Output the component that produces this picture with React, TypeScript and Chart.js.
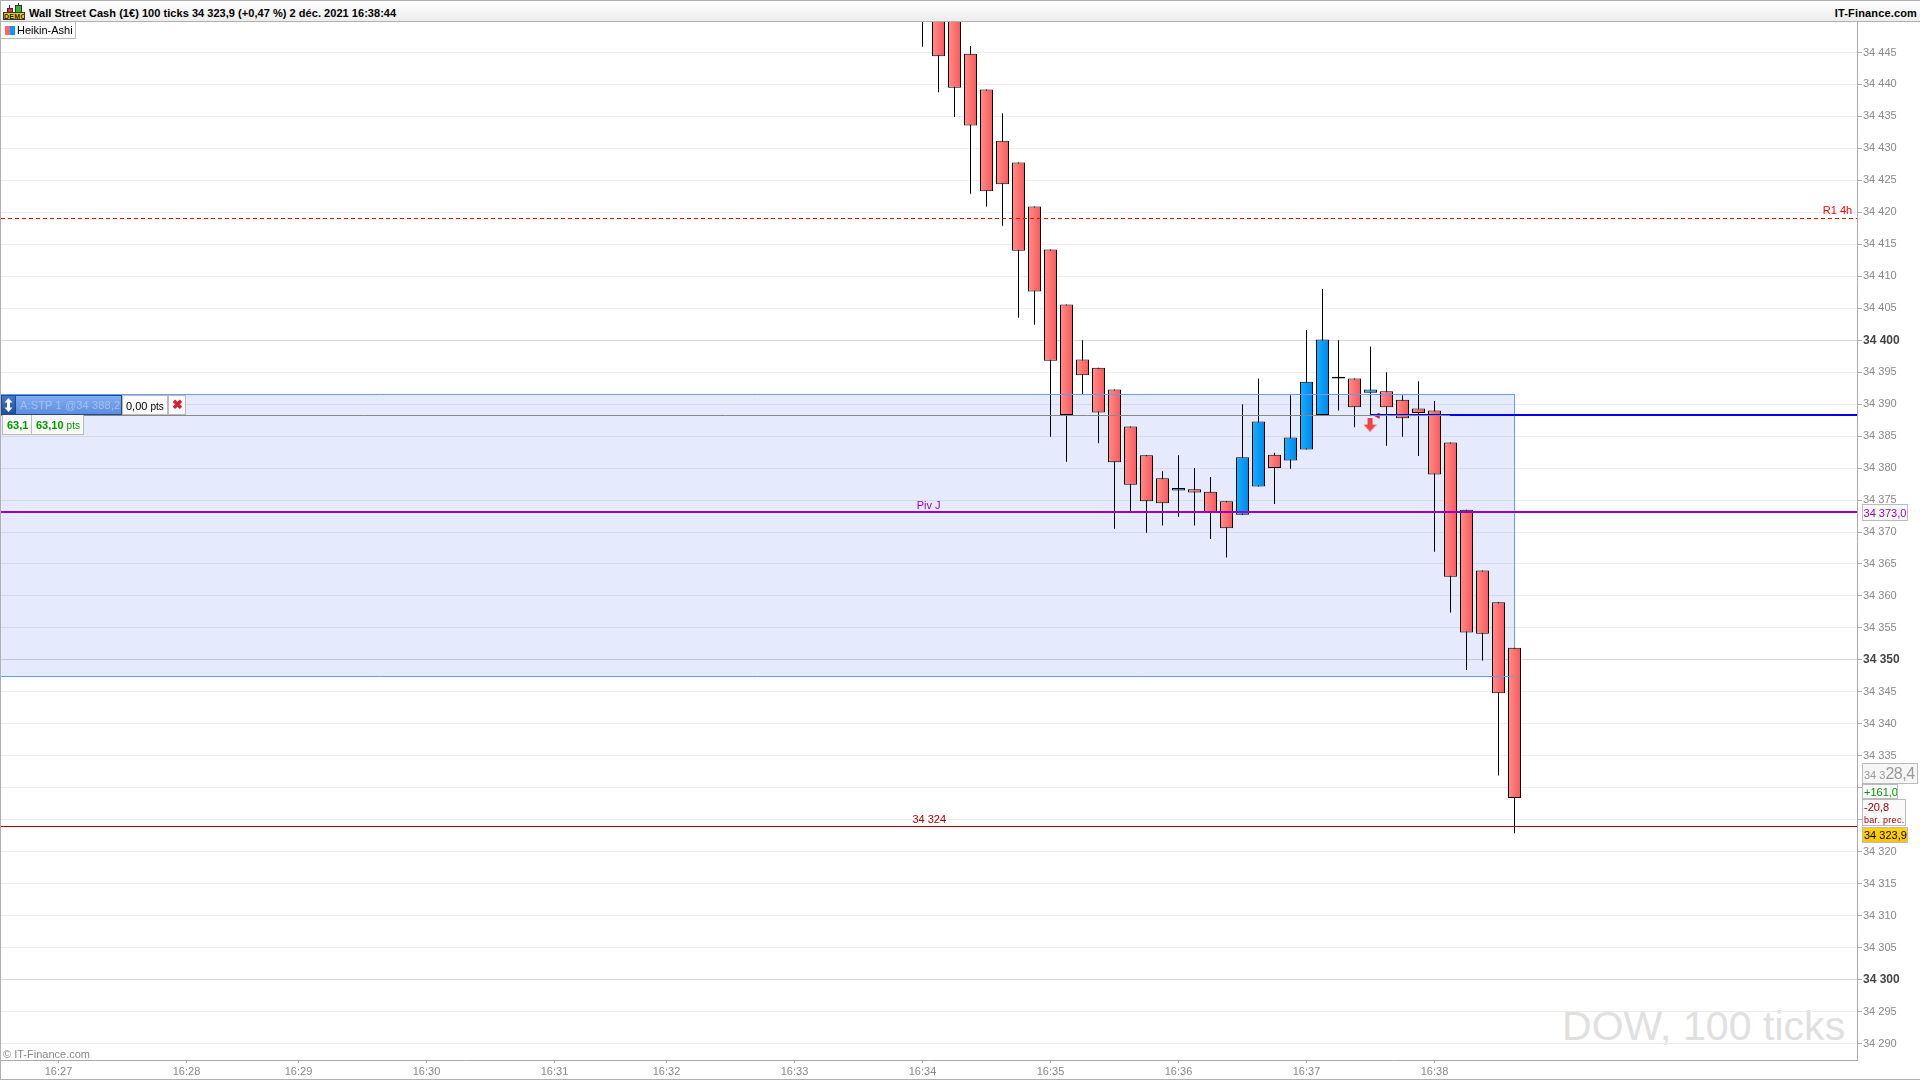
import React, { useEffect, useRef } from "react";
import { Chart, registerables } from "chart.js";

Chart.register(...registerables);

// Heikin-Ashi bars (bar 0 = 16:34)
const opens = [34456, 34455, 34452, 34444.8, 34439.2, 34431.2, 34427.8, 34420.9, 34414.2, 34405.6, 34397, 34395.7, 34392.3, 34386.5, 34382, 34378.4, 34376.5, 34376.7, 34376.3, 34374.8, 34372.7, 34377.1, 34382.1, 34381.2, 34382.9, 34388.3, 34394.0, 34394, 34391.8, 34392, 34390.7, 34389.3, 34389, 34384, 34373.5, 34364, 34359, 34351.9];
const closes = [34451, 34444.4, 34439.5, 34433.6, 34423.3, 34424.4, 34414, 34407.6, 34396.8, 34388.3, 34394.5, 34388.7, 34380.9, 34377.4, 34374.8, 34374.5, 34376.9, 34376.2, 34373.1, 34370.6, 34381.7, 34387.3, 34380, 34384.8, 34393.5, 34400.1, 34394.3, 34389.5, 34392.3, 34389.5, 34387.8, 34388.6, 34379, 34363, 34354.3, 34354.1, 34344.8, 34328.4];
const highs = [34460, 34458, 34456, 34446, 34439.2, 34435.5, 34427.8, 34420.9, 34414.2, 34405.6, 34400, 34395.7, 34392.3, 34386.5, 34382, 34379.5, 34382, 34380, 34378.6, 34374.8, 34390, 34394, 34382.4, 34391.4, 34401.6, 34408, 34400, 34394, 34399, 34395, 34391.4, 34393.6, 34390.5, 34384, 34373.5, 34364, 34359, 34351.9];
const lows = [34445.9, 34438.8, 34434.9, 34422.9, 34420.9, 34417.9, 34403.5, 34402.4, 34384.9, 34381, 34391.6, 34383.9, 34370.5, 34373.2, 34369.9, 34371, 34372.4, 34371, 34368.9, 34366, 34372.7, 34377.1, 34374.4, 34379.9, 34382.9, 34388.3, 34389, 34386.4, 34388.3, 34383.5, 34384.9, 34381.9, 34366.9, 34357.4, 34348.4, 34349.9, 34331.9, 34322.9];

const yTickValues = [34445, 34440, 34435, 34430, 34425, 34420, 34415, 34410, 34405, 34400, 34395, 34390, 34385, 34380, 34375, 34370, 34365, 34360, 34355, 34350, 34345, 34340, 34335, 34330, 34325, 34320, 34315, 34310, 34305, 34300, 34295, 34290];
const xTickBars = [-54, -46, -39, -31, -23, -16, -8, 0, 8, 16, 24, 32];
const xTickLabels = ["16:27", "16:28", "16:29", "16:30", "16:31", "16:32", "16:33", "16:34", "16:35", "16:36", "16:37", "16:38"];

const xMin = -57.59375;
const xMax = 58.40625;
const yMin = 34287.42;
const yMax = 34449.77;

const r1Level = 34419.04;
const pivotLevel = 34373.13;
const lastLevel = 34323.94;
const stopLevel = 34388.22;
const stopLevelThin = 34388.38;
const stopLevelThick = 34388.3;
const zoneTop = 34391.51;
const zoneBottom = 34347.4;
const zoneEndBar = 37;
const stopBlueStart = 27.97;
const stopGrayEnd = 32.97;

const labelTexts = ["R1 4h", "Piv J", "34 324"];
const labelBars = [57.19, 0.38, 0.42];
const labelPrices = [34420.2, 34374.14, 34324.94];
const labelColors = ["#FF0000", "#9900CC", "#AA0000"];

const FONT = '"Liberation Sans", Arial, sans-serif';

function fmtPrice(v: number) {
  const s = String(Math.round(v));
  return s.slice(0, 2) + " " + s.slice(2);
}

function hLine(y: number, a: number, b: number) {
  return [{ x: a, y }, { x: b, y }];
}

const labelPlugin = {
  id: "levelLabels",
  afterDatasetsDraw(chart: any) {
    const { ctx, scales } = chart;
    ctx.save();
    ctx.font = "11px " + FONT;
    ctx.textAlign = "center";
    ctx.textBaseline = "middle";
    labelTexts.forEach((t, i) => {
      ctx.fillStyle = labelColors[i];
      ctx.fillText(t, scales.x.getPixelForValue(labelBars[i]), scales.y.getPixelForValue(labelPrices[i]));
    });
    ctx.restore();
  },
};

function makeArrow() {
  const c = document.createElement("canvas");
  c.width = 13;
  c.height = 14;
  const g = c.getContext("2d")!;
  g.fillStyle = "#EE4444";
  g.fillRect(4, 0, 5, 8);
  g.beginPath();
  g.moveTo(0, 7);
  g.lineTo(13, 7);
  g.lineTo(6.5, 14);
  g.closePath();
  g.fill();
  return c;
}

function bodyFill(ctx: any) {
  const i = ctx.dataIndex;
  const up = closes[i] > opens[i];
  const fallback = up ? "#0099FF" : "#FF6E6E";
  const sx = ctx.chart.scales?.x;
  if (!sx || i === undefined) return fallback;
  const c = sx.getPixelForValue(i);
  if (!Number.isFinite(c)) return fallback;
  const g = ctx.chart.ctx.createLinearGradient(c - 6, 0, c + 6, 0);
  g.addColorStop(0, up ? "#13B0FF" : "#FF8C8C");
  g.addColorStop(1, up ? "#0088EE" : "#FF5858");
  return g;
}

function lineSet(data: any[], color: string, width: number, order: number, extra: any = {}) {
  return { type: "line", data, borderColor: color, borderWidth: width, pointRadius: 0, order, tension: 0, fill: false, ...extra };
}

const Box = ({ l, t, w, h, style, children }: any) => (
  <div style={{ position: "absolute", left: l, top: t, width: w, height: h, boxSizing: "border-box", lineHeight: h - 2 + "px", whiteSpace: "nowrap", overflow: "hidden", ...style }}>
    {children}
  </div>
);

export default function App() {
  const ref = useRef<HTMLCanvasElement>(null);
  useEffect(() => {
    document.body.style.margin = "0";
    const chart = new Chart(ref.current!, {
      type: "bar",
      plugins: [labelPlugin],
      data: {
        datasets: [
          lineSet(hLine(pivotLevel, xMin, xMax), "#9900CC", 2, 0),
          lineSet(hLine(lastLevel, xMin, xMax), "#AA0000", 1, 1),
          lineSet(hLine(stopLevelThick, stopGrayEnd, xMax), "#0000EE", 2, 2),
          lineSet(hLine(stopLevelThin, stopBlueStart, stopGrayEnd), "#0000EE", 1, 3),
          lineSet(hLine(stopLevel, xMin, stopGrayEnd), "#888888", 1, 4),
          lineSet(hLine(zoneTop, xMin, zoneEndBar), "#6699FF", 1, 5),
          lineSet(hLine(zoneBottom, xMin, zoneEndBar), "#6699FF", 1, 5),
          lineSet(hLine(r1Level, xMin, xMax), "#FF0000", 1, 6, { borderDash: [4, 3] }),
          lineSet([{ x: stopBlueStart, y: 34386.8 }], "#EE4444", 1, 7, { pointStyle: makeArrow(), pointRadius: 7, showLine: false }),
          lineSet([{ x: 28.45, y: 34388.2 }], "#CC2233", 1, 7, { pointStyle: "triangle", pointRadius: 3, rotation: -90, pointBackgroundColor: "#CC2233", showLine: false }),
          {
            type: "bar",
            data: opens.map((o, i) => ({ x: i, y: [o, closes[i]] })),
            backgroundColor: bodyFill,
            borderColor: "#000000",
            borderWidth: 1,
            borderSkipped: false,
            inflateAmount: 0,
            barThickness: 13,
            grouped: false,
            order: 10,
          },
          {
            type: "bar",
            data: highs.map((h, i) => ({ x: i, y: [lows[i], h] })),
            backgroundColor: "#000000",
            borderWidth: 0,
            inflateAmount: 0,
            barThickness: 1,
            grouped: false,
            order: 11,
          },
          lineSet(
            [{ x: zoneEndBar, y: zoneTop }, { x: zoneEndBar, y: zoneBottom }],
            "#6699FF", 1, 12),
          lineSet(hLine(zoneTop, xMin, zoneEndBar), "rgba(0,0,0,0)", 0, 13, {
            fill: { value: zoneBottom },
            backgroundColor: "rgba(0,60,230,0.1)",
          }),
        ] as any,
      },
      options: {
        animation: false,
        responsive: false,
        devicePixelRatio: 1,
        layout: { autoPadding: false, padding: { left: 1, top: 22, right: 0, bottom: 0 } },
        plugins: { legend: { display: false }, tooltip: { enabled: false } },
        events: [],
        scales: {
          x: {
            type: "linear",
            offset: false,
            min: xMin,
            max: xMax,
            afterFit: (s: any) => { s.height = 20; },
            afterBuildTicks: (s: any) => { s.ticks = xTickBars.map((value) => ({ value })); },
            grid: { display: true, offset: false, drawOnChartArea: false, drawTicks: true, tickLength: 3, tickColor: "#AAAAAA" },
            border: { color: "#AAAAAA", width: 1 },
            ticks: {
              autoSkip: false,
              maxRotation: 0,
              padding: 2,
              color: "#888888",
              font: { family: FONT, size: 11 },
              callback: (v: any) => xTickLabels[xTickBars.indexOf(Number(v))] ?? "",
            },
          },
          y: {
            position: "right",
            min: yMin,
            max: yMax,
            afterFit: (s: any) => { s.width = 63; },
            afterBuildTicks: (s: any) => { s.ticks = yTickValues.map((value) => ({ value })); },
            grid: {
              color: (c: any) => (c.tick && c.tick.value % 50 === 0 ? "#D8D8D8" : "#EBEBEB"),
              tickColor: "#AAAAAA",
              tickLength: 5,
              lineWidth: 1,
            },
            border: { color: "#AAAAAA", width: 1 },
            ticks: {
              autoSkip: false,
              padding: 1,
              color: (c: any) => (c.tick && c.tick.value % 50 === 0 ? "#444444" : "#888888"),
              font: (c: any) => {
                const bold = c.tick && c.tick.value % 50 === 0;
                return { family: FONT, size: bold ? 12 : 11, weight: bold ? "bold" : "normal" };
              },
              callback: (v: any) => fmtPrice(Number(v)),
            },
          },
        },
      } as any,
    });
    return () => chart.destroy();
  }, []);

  const base: any = { fontFamily: FONT, fontSize: 11, color: "#000" };
  return (
    <div style={{ position: "absolute", left: 0, top: 0, width: 1920, height: 1080, overflow: "hidden", background: "#fff", ...base }}>
      <div style={{ position: "absolute", left: 1562, top: 1003, fontSize: 41, lineHeight: "47px", color: "#E0E0E0", whiteSpace: "nowrap", letterSpacing: 0.05 }}>DOW, 100 ticks</div>
      <canvas ref={ref} width={1920} height={1080} style={{ position: "absolute", left: 0, top: 0, width: 1920, height: 1080, display: "block" }} />

      {/* frame */}
      <div style={{ position: "absolute", left: 0, top: 0, width: 1920, height: 1080, boxSizing: "border-box", borderTop: "1px solid #B0B0B0", borderLeft: "1px solid #B0B0B0", borderBottom: "1px solid #B0B0B0", pointerEvents: "none" }} />

      {/* header */}
      <div style={{ position: "absolute", left: 1, top: 1, width: 1919, height: 21, boxSizing: "border-box", background: "linear-gradient(#FDFDFD,#EDEDED)", borderBottom: "1px solid #B0B0B0" }} />
      <div style={{ position: "absolute", left: 29, top: 5, fontWeight: "bold", lineHeight: "16px", whiteSpace: "nowrap", letterSpacing: 0.04 }}>
        Wall Street Cash (1€) 100 ticks 34 323,9 (+0,47 %) 2 déc. 2021 16:38:44
      </div>
      <div style={{ position: "absolute", right: 3, top: 5, fontWeight: "bold", lineHeight: "16px", whiteSpace: "nowrap", letterSpacing: 0.15 }}>IT-Finance.com</div>
      {/* demo icon */}
      <Box l={9} t={5} w={1} h={8} style={{ background: "#333" }} />
      <Box l={7} t={8} w={6} h={5} style={{ background: "#D9363E", border: "1px solid #333" }} />
      <Box l={18} t={3} w={1} h={10} style={{ background: "#333" }} />
      <Box l={15} t={5} w={7} h={8} style={{ background: "#2FB52F", border: "1px solid #333" }} />
      <Box l={3} t={12} w={22} h={8} style={{ background: "#F2CC1A", border: "1px solid #333", fontSize: 7, fontWeight: "bold", lineHeight: "7px", textAlign: "center", color: "#222", letterSpacing: 0.3 }}>DEMO</Box>

      {/* legend */}
      <Box l={1} t={22} w={75} h={17} style={{ background: "#FAFAFA", borderRight: "1px solid #BBB", borderBottom: "1px solid #BBB", paddingLeft: 16, lineHeight: "17px" }}>Heikin-Ashi</Box>
      <Box l={5} t={26} w={5} h={9} style={{ background: "#FF6666" }} />
      <Box l={10} t={26} w={5} h={9} style={{ background: "#0099FF" }} />

      {/* position box */}
      <Box l={1} t={395} w={15} h={20} style={{ background: "linear-gradient(#4477CC,#224C99)", border: "1px solid #1F4A8C" }}>
        <svg width="13" height="18" viewBox="0 0 13 18" style={{ display: "block" }}>
          <polygon points="6.5,2 10.5,6.5 8,6.5 8,11.5 10.5,11.5 6.5,16 2.5,11.5 5,11.5 5,6.5 2.5,6.5" fill="#FFFFFF" />
        </svg>
      </Box>
      <Box l={16} t={395} w={106} h={20} style={{ background: "linear-gradient(#7FAEF2,#5E8DE0)", borderTop: "1px solid #1F4A8C", borderRight: "1px solid #1F4A8C", borderBottom: "1px solid #1F4A8C", color: "#A9C1EA", fontSize: 11, letterSpacing: 0.15, paddingLeft: 4, lineHeight: "19px" }}>A:STP 1 @34 388,2</Box>
      <Box l={122} t={395} w={46} h={20} style={{ background: "#FAFAFA", border: "1px solid #BBB", paddingLeft: 3, lineHeight: "20px" }}>0,00 <span style={{ fontSize: 10 }}>pts</span></Box>
      <Box l={168} t={395} w={18} h={20} style={{ background: "#FAFAFA", border: "1px solid #BBB", color: "#D9202C", fontSize: 13, fontWeight: "bold", textAlign: "center", lineHeight: "17px" }}>✖</Box>
      <Box l={2} t={415} w={30} h={20} style={{ background: "#F8F8F8", border: "1px solid #BBB", borderTop: "none", color: "#009900", fontWeight: "bold", paddingLeft: 4, lineHeight: "20px" }}>63,1</Box>
      <Box l={31} t={415} w={53} h={20} style={{ background: "#F8F8F8", border: "1px solid #BBB", borderTop: "none", color: "#009900", fontWeight: "bold", paddingLeft: 4, lineHeight: "20px" }}>63,10 <span style={{ fontSize: 10, fontWeight: "normal" }}>pts</span></Box>

      {/* right-hand price boxes */}
      <Box l={1862} t={504} w={46} h={17} style={{ background: "#FAFAFA", border: "1px solid #BBB", color: "#9900CC", textAlign: "center", lineHeight: "16px" }}>34 373,0</Box>
      <Box l={1862} t={763} w={56} h={21} style={{ background: "#F6F6F6", border: "1px solid #BBB", color: "#999", paddingLeft: 1, lineHeight: "20px" }}>34 3<span style={{ fontSize: 16, letterSpacing: -0.5 }}>28,4</span></Box>
      <Box l={1862} t={784} w={36} h={15} style={{ background: "#FAFAFA", border: "1px solid #BBB", color: "#009900", paddingLeft: 1, lineHeight: "15px" }}>+161,0</Box>
      <Box l={1862} t={799} w={44} h={27} style={{ background: "#FAFAFA", border: "1px solid #BBB", color: "#AA0000", paddingLeft: 1, lineHeight: "12px" }}>
        <div style={{ lineHeight: "15px" }}>-20,8</div>
        <div style={{ fontSize: 9, lineHeight: "10px", letterSpacing: 0.3 }}>bar. prec.</div>
      </Box>
      <Box l={1862} t={827} w={46} h={16} style={{ background: "linear-gradient(#FFD400,#FFC400)", border: "1px solid #BBB", color: "#000", fontSize: 11, paddingLeft: 1, lineHeight: "14px" }}>34 323,9</Box>

      <div style={{ position: "absolute", left: 3, top: 1047, color: "#888", lineHeight: "14px", whiteSpace: "nowrap" }}>© IT-Finance.com</div>
    </div>
  );
}
